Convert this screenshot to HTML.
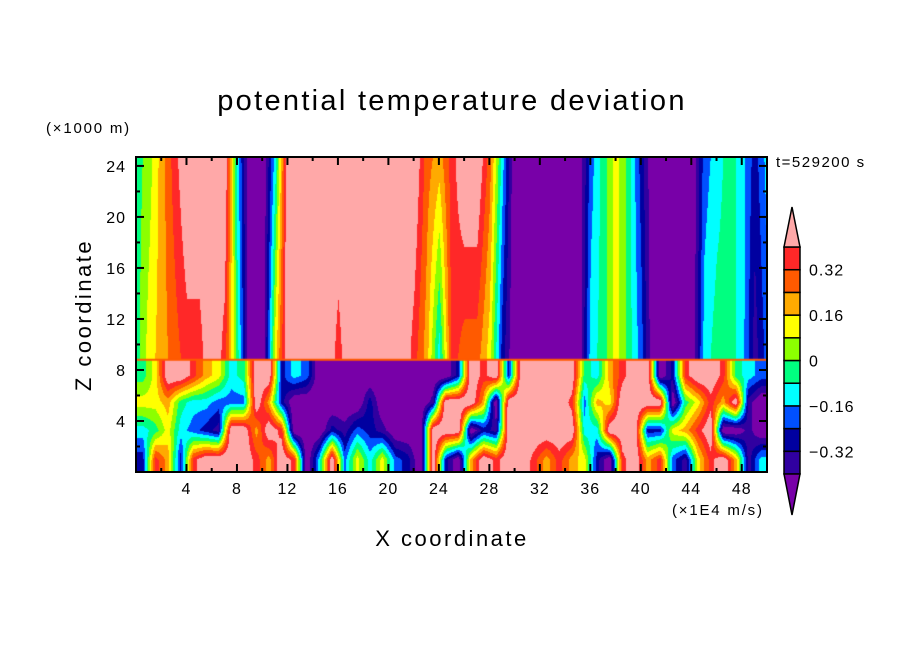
<!DOCTYPE html>
<html><head><meta charset="utf-8"><style>
body{margin:0;background:#fff;width:904px;height:654px;overflow:hidden;position:relative;font-family:"Liberation Sans",sans-serif}
.t{position:absolute;white-space:nowrap;color:#000}
</style></head><body>
<div class="t" style="left:0;width:904px;text-align:center;top:85px;font-size:29px;letter-spacing:2.3px">potential temperature deviation</div>
<div class="t" style="left:46px;top:120px;font-size:15px;letter-spacing:1.8px">(×1000 m)</div>
<div class="t" style="left:776px;top:154px;font-size:15px;letter-spacing:1.5px">t=529200 s</div>
<div class="t" style="left:672px;top:502px;font-size:15px;letter-spacing:1.8px">(×1E4 m/s)</div>
<div class="t" style="left:0;width:904px;text-align:center;top:526px;font-size:22px;letter-spacing:2.5px">X coordinate</div>
<div class="t" style="left:84px;top:315px;font-size:22px;letter-spacing:2.5px;transform:translate(-50%,-50%) rotate(-90deg)">Z coordinate</div>
<canvas id="cv" width="631" height="315" style="position:absolute;left:136px;top:157px"></canvas>
<svg id="sv" width="904" height="654" style="position:absolute;left:0;top:0"></svg>
<script>
const levels=[-0.4,-0.32,-0.24,-0.16,-0.08,0,0.08,0.16,0.24,0.32,0.4];
const colors=["#7800a8","#3000a0","#0000a0","#0050ff","#00ffff","#00ff80","#8cff00","#ffff00","#ffaa00","#ff5a00","#ff2828","#ffa8a8"];
const xTicks=[4,8,12,16,20,24,28,32,36,40,44,48];
const zTicks=[4,8,12,16,20,24];
const cbLabels=["0.32","0.16","0","−0.16","−0.32"];
const cbLabelVals=[0.32,0.16,0,-0.16,-0.32];
const P=-0.5,I=-0.36,N=-0.28,B=-0.2,C=-0.12,G=-0.04,YG=0.04,Y=0.12,O=0.2,OR=0.28,R=0.36,K=0.5;
// upper layer, x=0..50
const upperTop=[G,YG,O,R,K,K,K,K,C,P,P,C,K,K,K,K,K,K,K,K,K,K,K,OR,O,R,K,K,OR,C,P,P,P,P,P,P,B,G,Y,G,N,P,P,P,P,B,C,G,C,N,C];
const upperBot=[G,Y,O,OR,R,R,K,R,G,P,P,Y,K,K,K,K,R,K,K,K,K,K,R,O,C,R,OR,OR,Y,N,P,P,P,P,P,P,C,G,Y,G,B,P,P,P,P,C,G,G,C,I,B];
// lower layer rows (z≈1,3.3,5.5,7.6), x centers i+0.5
const low0=[N,R,O,N,R,K,K,K,K,R,O,K,R,P,C,K,B,Y,C,Y,B,N,P,K,N,P,O,K,R,K,K,R,O,R,O,Y,N,P,R,K,O,R,B,I,Y,R,K,O,I,C];
const low1=[C,G,Y,C,B,N,I,K,K,O,K,R,P,P,P,N,I,B,N,I,P,P,P,K,K,K,P,N,I,K,K,K,K,K,K,C,C,K,K,K,N,N,Y,O,R,K,P,P,I,P];
const low2=[Y,Y,O,G,C,C,B,B,B,K,O,N,P,P,P,P,P,P,N,P,P,P,P,I,K,K,K,O,P,K,K,K,K,K,R,B,O,Y,K,K,K,K,P,G,Y,R,O,K,I,P];
const low3=[G,Y,K,K,R,O,Y,C,G,K,K,N,C,B,P,P,P,P,P,P,P,P,P,P,P,N,K,R,K,N,K,K,K,K,K,G,C,O,R,K,K,P,N,R,K,K,R,G,C,B];
const lowRows=[low0,low1,low2,low3];const lowZ=[1,3.3,5.5,7.6];
const X0=136,X1=767,Y0=157,Y1=472,XMAX=50,ZMAX=24.7,ZI=8.8;
const sx=x=>X0+(X1-X0)*x/XMAX, sz=z=>Y1-(Y1-Y0)*z/ZMAX;
function lerpArr(a,x){x=Math.max(0,Math.min(a.length-1,x));const i=Math.min(a.length-2,Math.floor(x)),f=x-i;return a[i]*(1-f)+a[i+1]*f;}
function val(x,z){
 if(z>=ZI){const t=Math.min(1,(z-9.2)/(ZMAX-9.2));return lerpArr(upperBot,x)*(1-Math.max(0,t))+lerpArr(upperTop,x)*Math.max(0,t);}
 const xi=x-0.5;let j=0;while(j<lowZ.length-2&&z>lowZ[j+1])j++;
 let f=(z-lowZ[j])/(lowZ[j+1]-lowZ[j]);f=Math.max(0,Math.min(1,f));
 return lerpArr(lowRows[j],xi)*(1-f)+lerpArr(lowRows[j+1],xi)*f;}
const cv=document.getElementById('cv'),ctx=cv.getContext('2d');
const W=cv.width,H=cv.height,img=ctx.createImageData(W,H);
const rgb=colors.map(c=>[1,3,5].map(i=>parseInt(c.substr(i,2),16)));
for(let py=0;py<H;py++){const z=(Y1-(Y0+py))*ZMAX/(Y1-Y0);for(let px=0;px<W;px++){const x=px*XMAX/(X1-X0);const v=val(x,z);let k=0;while(k<levels.length&&v>=levels[k])k++;const c=rgb[k],o=(py*W+px)*4;img.data[o]=c[0];img.data[o+1]=c[1];img.data[o+2]=c[2];img.data[o+3]=255;}}
ctx.putImageData(img,0,0);
ctx.fillStyle="#ff5a00";ctx.fillRect(0,sz(ZI)-Y0-1,W,2);
const sv=document.getElementById('sv'),NS="http://www.w3.org/2000/svg";
function mk(t,a,p){const e=document.createElementNS(NS,t);for(const k in a)e.setAttribute(k,a[k]);(p||sv).appendChild(e);return e;}
const fr=mk('rect',{x:X0,y:Y0,width:X1-X0,height:Y1-Y0,fill:'none',stroke:'#000','stroke-width':2});


for(let x=2;x<XMAX;x+=2){const L=(x%4===0)?8:4;mk('line',{x1:sx(x),x2:sx(x),y1:Y1,y2:Y1-L,stroke:'#000','stroke-width':2});mk('line',{x1:sx(x),x2:sx(x),y1:Y0,y2:Y0+L,stroke:'#000','stroke-width':2});}
for(let z=2;z<ZMAX;z+=2){const L=(z%4===0)?8:4;mk('line',{x1:X0,x2:X0+L,y1:sz(z),y2:sz(z),stroke:'#000','stroke-width':2});mk('line',{x1:X1,x2:X1-L,y1:sz(z),y2:sz(z),stroke:'#000','stroke-width':2});}
xTicks.forEach(x=>{const t=mk('text',{x:sx(x),y:Y1+22,'text-anchor':'middle','font-size':16,'letter-spacing':1,'font-family':'Liberation Sans, sans-serif'});t.textContent=x;

});
zTicks.forEach(z=>{const t=mk('text',{x:X0-10,y:sz(z)+6,'text-anchor':'end','font-size':16,'letter-spacing':1,'font-family':'Liberation Sans, sans-serif'});t.textContent=z;

});
const cbX=784,cbW=16,cbTop=247,cbBot=474,nb=levels.length-1,bh=(cbBot-cbTop)/nb;
const cb=(v)=>cbBot-(v-levels[0])/(levels[nb]-levels[0])*(cbBot-cbTop);
for(let k=0;k<nb;k++){const r=mk('rect',{x:cbX,y:cb(levels[k+1]),width:cbW,height:bh,fill:colors[k+1],stroke:'#000','stroke-width':1.5});

}
const tu=mk('polygon',{points:`${cbX},${cbTop} ${cbX+cbW},${cbTop} ${cbX+cbW/2},207`,fill:colors[11],stroke:'#000','stroke-width':1.5});


const td=mk('polygon',{points:`${cbX},${cbBot} ${cbX+cbW},${cbBot} ${cbX+cbW/2},515`,fill:colors[0],stroke:'#000','stroke-width':1.5});


cbLabels.forEach((s,i)=>{const t=mk('text',{x:809,y:cb(cbLabelVals[i])+6,'font-size':16,'letter-spacing':1,'font-family':'Liberation Sans, sans-serif'});t.textContent=s;

});
</script>
</body></html>
